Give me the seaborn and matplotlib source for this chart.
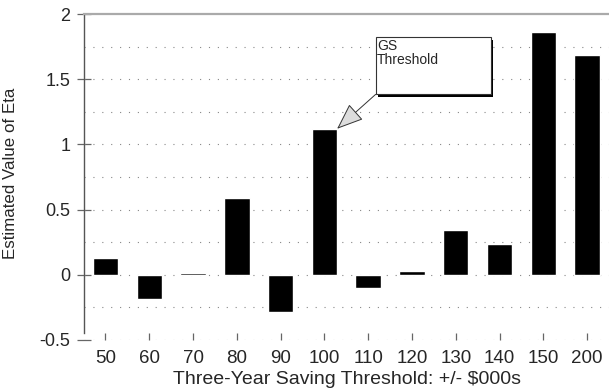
import numpy as np
import pandas as pd
import matplotlib
matplotlib.use("Agg")
import matplotlib.pyplot as plt
from matplotlib.patches import Rectangle
import seaborn as sns

# Estimated eta for each three-year saving threshold (+/- $000s)
thresholds = ["50", "60", "70", "80", "90", "100", "110", "120", "130", "140", "150", "200"]
eta = [0.13, -0.185, 0.01, 0.59, -0.285, 1.12, -0.10, 0.03, 0.34, 0.235, 1.86, 1.69]
y_ticks = [-0.5, 0, 0.5, 1, 1.5, 2]
y_tick_labels = ["-0.5", "0", "0.5", "1", "1.5", "2"]
gs_threshold = "100"

sns.set_theme(style="white")
plt.rcParams["font.family"] = ["Liberation Sans", "DejaVu Sans"]

df = pd.DataFrame({"threshold": thresholds, "eta": eta})

fig = plt.figure(figsize=(6.09, 3.92), dpi=100)
ax = fig.add_axes([0.138, 0.133, 0.862, 0.831])

bar_w = 0.58
sns.barplot(data=df, x="threshold", y="eta", order=thresholds, color="black",
            saturation=1, width=bar_w, ax=ax, zorder=3)

ax.set_xlim(-0.49, 11.5)
ax.set_ylim(-0.5, 2)

# sparse dotted quarter-step grid
for g in np.arange(-0.5, 2.0, 0.25):
    ax.axhline(g, color="#888888", lw=0.8, ls=(0, (1, 7)), zorder=1)

ax.set_yticks(y_ticks)
ax.set_yticklabels(y_tick_labels)
ax.tick_params(axis="y", direction="inout", length=10, width=0.9, color="#666666",
               labelsize=13, pad=5, left=True)
ax.tick_params(axis="x", direction="in", length=5, width=0.9, color="#666666",
               labelsize=13.5, pad=7, bottom=True)

for side in ["bottom", "right"]:
    ax.spines[side].set_visible(False)
ax.spines["left"].set_color("#555555")
ax.spines["left"].set_linewidth(1.0)
ax.spines["left"].set_bounds(-0.45, 2)
ax.spines["top"].set_color("#aaaaaa")
ax.spines["top"].set_linewidth(1.6)

ax.set_xlabel("Three-Year Saving Threshold: +/- $000s", fontsize=14, labelpad=3)
ax.set_ylabel("Estimated Value of Eta", fontsize=12.2)
ax.yaxis.set_label_coords(-0.125, 0.51)

# callout box with drop shadow
bx0, by0, bw, bh = 6.17, 1.384, 2.63, 0.44
ax.add_patch(Rectangle((bx0 + 0.06, by0 - 0.02), bw, bh, facecolor="black",
                       edgecolor="none", zorder=5))
ax.add_patch(Rectangle((bx0, by0), bw, bh, facecolor="white",
                       edgecolor="#333333", lw=0.8, zorder=6))
ax.text(bx0 + 0.03, by0 + bh - 0.015, "GS\nThreshold", fontsize=10, va="top",
        ha="left", linespacing=1.0, zorder=7)

gi = thresholds.index(gs_threshold)
ax.annotate("", xy=(gi + bar_w / 2, eta[gi]), xytext=(bx0, by0),
            arrowprops=dict(arrowstyle="-|>,head_length=1.4,head_width=0.55",
                            facecolor="#dddddd", edgecolor="#333333", lw=0.7,
                            shrinkA=0, shrinkB=0),
            zorder=6)

fig.savefig("out.png", dpi=100)
